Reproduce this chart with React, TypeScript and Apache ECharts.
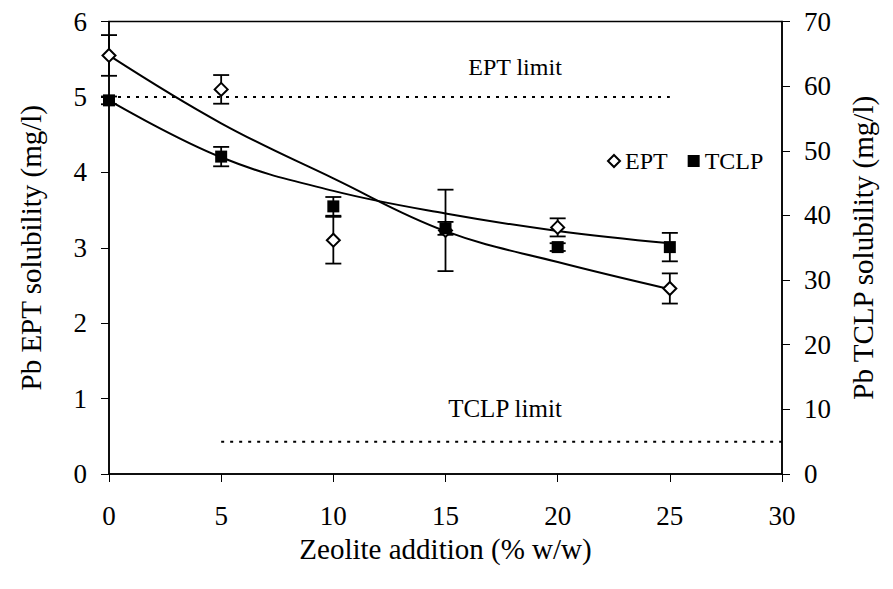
import React, { useEffect, useRef } from "react";
import * as echarts from "echarts";

const xValues = [0, 5, 10, 15, 20, 25];
const eptValues = [5.55, 5.1, 3.1, 3.23, 3.27, 2.46];
const eptErrors = [0.27, 0.19, 0.31, 0.54, 0.12, 0.2];
const tclpValues = [57.8, 49.1, 41.4, 38.0, 35.1, 35.1];
const tclpErrors = [0.6, 1.5, 1.45, 1.0, 0.6, 2.2];
const eptTrend = [5.55, 4.65, 3.92, 3.22, 2.81, 2.45];
const tclpTrend = [57.8, 49.0, 43.8, 40.3, 37.6, 35.7];
const eptLimit = 5;
const eptLimitRange = [0, 25];
const tclpLimit = 5;
const tclpLimitRange = [5, 30];
const xTicks = [0, 5, 10, 15, 20, 25, 30];

const FONT = "Liberation Serif";

function errorRender(params: any, api: any) {
  const x = api.value(0);
  const y = api.value(1);
  const e = api.value(2);
  const top = api.coord([x, y + e]);
  const bot = api.coord([x, y - e]);
  const w = 8;
  const st = { stroke: "#000", lineWidth: 1.8 };
  return {
    type: "group",
    children: [
      { type: "line", shape: { x1: top[0], y1: top[1], x2: bot[0], y2: bot[1] }, style: st },
      { type: "line", shape: { x1: top[0] - w, y1: top[1], x2: top[0] + w, y2: top[1] }, style: st },
      { type: "line", shape: { x1: bot[0] - w, y1: bot[1], x2: bot[0] + w, y2: bot[1] }, style: st },
    ],
  };
}

export default function App() {
  const ref = useRef<HTMLDivElement>(null);
  useEffect(() => {
    if (!ref.current) return;
    const chart = echarts.init(ref.current, null, { renderer: "svg" });
    const pair = (ys: number[]) => xValues.map((x, i) => [x, ys[i]]);
    const trip = (ys: number[], es: number[]) => xValues.map((x, i) => [x, ys[i], es[i]]);
    chart.setOption({
      animation: false,
      backgroundColor: "#fff",
      textStyle: { fontFamily: FONT, color: "#000" },
      grid: { left: 92, right: 93, top: 13, bottom: 107, show: true, borderColor: "#000", borderWidth: 1.5 },
      legend: {
        data: ["EPT", "TCLP"],
        left: 594,
        top: 136,
        itemWidth: 12,
        itemHeight: 12,
        itemGap: 20,
        textStyle: { fontFamily: FONT, fontSize: 24, color: "#000" },
      },
      xAxis: {
        type: "value",
        min: 0,
        max: 30,
        interval: 5,
        name: "Zeolite addition (% w/w)",
        nameLocation: "middle",
        nameGap: 60,
        nameTextStyle: { fontFamily: FONT, fontSize: 29, color: "#000" },
        axisLine: { lineStyle: { color: "#000", width: 1.5 } },
        axisTick: { show: true, length: 8, lineStyle: { color: "#000" } },
        axisLabel: { fontFamily: FONT, fontSize: 27, color: "#000", margin: 28, customValues: xTicks },
        splitLine: { show: false },
      },
      yAxis: [
        {
          type: "value",
          min: 0,
          max: 6,
          interval: 1,
          position: "left",
          name: "Pb EPT solubility (mg/l)",
          nameLocation: "middle",
          nameGap: 64,
          nameTextStyle: { fontFamily: FONT, fontSize: 29, color: "#000" },
          axisLine: { show: true, lineStyle: { color: "#000", width: 1.5 } },
          axisTick: { show: true, length: 8, lineStyle: { color: "#000" } },
          axisLabel: { fontFamily: FONT, fontSize: 27, color: "#000", margin: 22 },
          splitLine: { show: false },
        },
        {
          type: "value",
          min: 0,
          max: 70,
          interval: 10,
          position: "right",
          name: "Pb TCLP solubility (mg/l)",
          nameLocation: "middle",
          nameGap: 66,
          nameRotate: 90,
          nameTextStyle: { fontFamily: FONT, fontSize: 29, color: "#000" },
          axisLine: { show: true, lineStyle: { color: "#000", width: 1.5 } },
          axisTick: { show: true, length: 8, lineStyle: { color: "#000" } },
          axisLabel: { fontFamily: FONT, fontSize: 27, color: "#000", margin: 22 },
          splitLine: { show: false },
        },
      ],
      graphic: [
        {
          type: "text",
          x: 507,
          y: 59,
          style: { text: "EPT limit", font: `24px ${FONT}`, fill: "#000", textAlign: "center", textVerticalAlign: "middle" },
        },
        {
          type: "text",
          x: 497,
          y: 400,
          style: { text: "TCLP limit", font: `25px ${FONT}`, fill: "#000", textAlign: "center", textVerticalAlign: "middle" },
        },
      ],
      series: [
        {
          name: "EPT limit line",
          type: "line",
          yAxisIndex: 0,
          data: eptLimitRange.map((x) => [x, eptLimit]),
          symbol: "none",
          lineStyle: { color: "#000", width: 2, type: [3, 6] },
          silent: true,
        },
        {
          name: "TCLP limit line",
          type: "line",
          yAxisIndex: 1,
          data: tclpLimitRange.map((x) => [x, tclpLimit]),
          symbol: "none",
          lineStyle: { color: "#000", width: 2, type: [3, 6] },
          silent: true,
        },
        {
          name: "EPT trend",
          type: "line",
          yAxisIndex: 0,
          data: pair(eptTrend),
          smooth: 0.4,
          symbol: "none",
          lineStyle: { color: "#000", width: 2 },
        },
        {
          name: "TCLP trend",
          type: "line",
          yAxisIndex: 1,
          data: pair(tclpTrend),
          smooth: 0.4,
          symbol: "none",
          lineStyle: { color: "#000", width: 2 },
        },
        {
          name: "EPT err",
          type: "custom",
          yAxisIndex: 0,
          data: trip(eptValues, eptErrors),
          renderItem: errorRender,
          encode: { x: 0, y: 1 },
          z: 3,
        },
        {
          name: "TCLP err",
          type: "custom",
          yAxisIndex: 1,
          data: trip(tclpValues, tclpErrors),
          renderItem: errorRender,
          encode: { x: 0, y: 1 },
          z: 3,
        },
        {
          name: "EPT",
          type: "scatter",
          yAxisIndex: 0,
          data: pair(eptValues),
          symbol: "diamond",
          symbolSize: 13,
          itemStyle: { color: "#fff", borderColor: "#000", borderWidth: 2, opacity: 1 },
          z: 5,
        },
        {
          name: "TCLP",
          type: "scatter",
          yAxisIndex: 1,
          data: pair(tclpValues),
          symbol: "rect",
          symbolSize: 12,
          itemStyle: { color: "#000", opacity: 1 },
          z: 6,
        },
      ],
    });
    return () => chart.dispose();
  }, []);
  return <div ref={ref} style={{ width: 877, height: 573 }} />;
}
